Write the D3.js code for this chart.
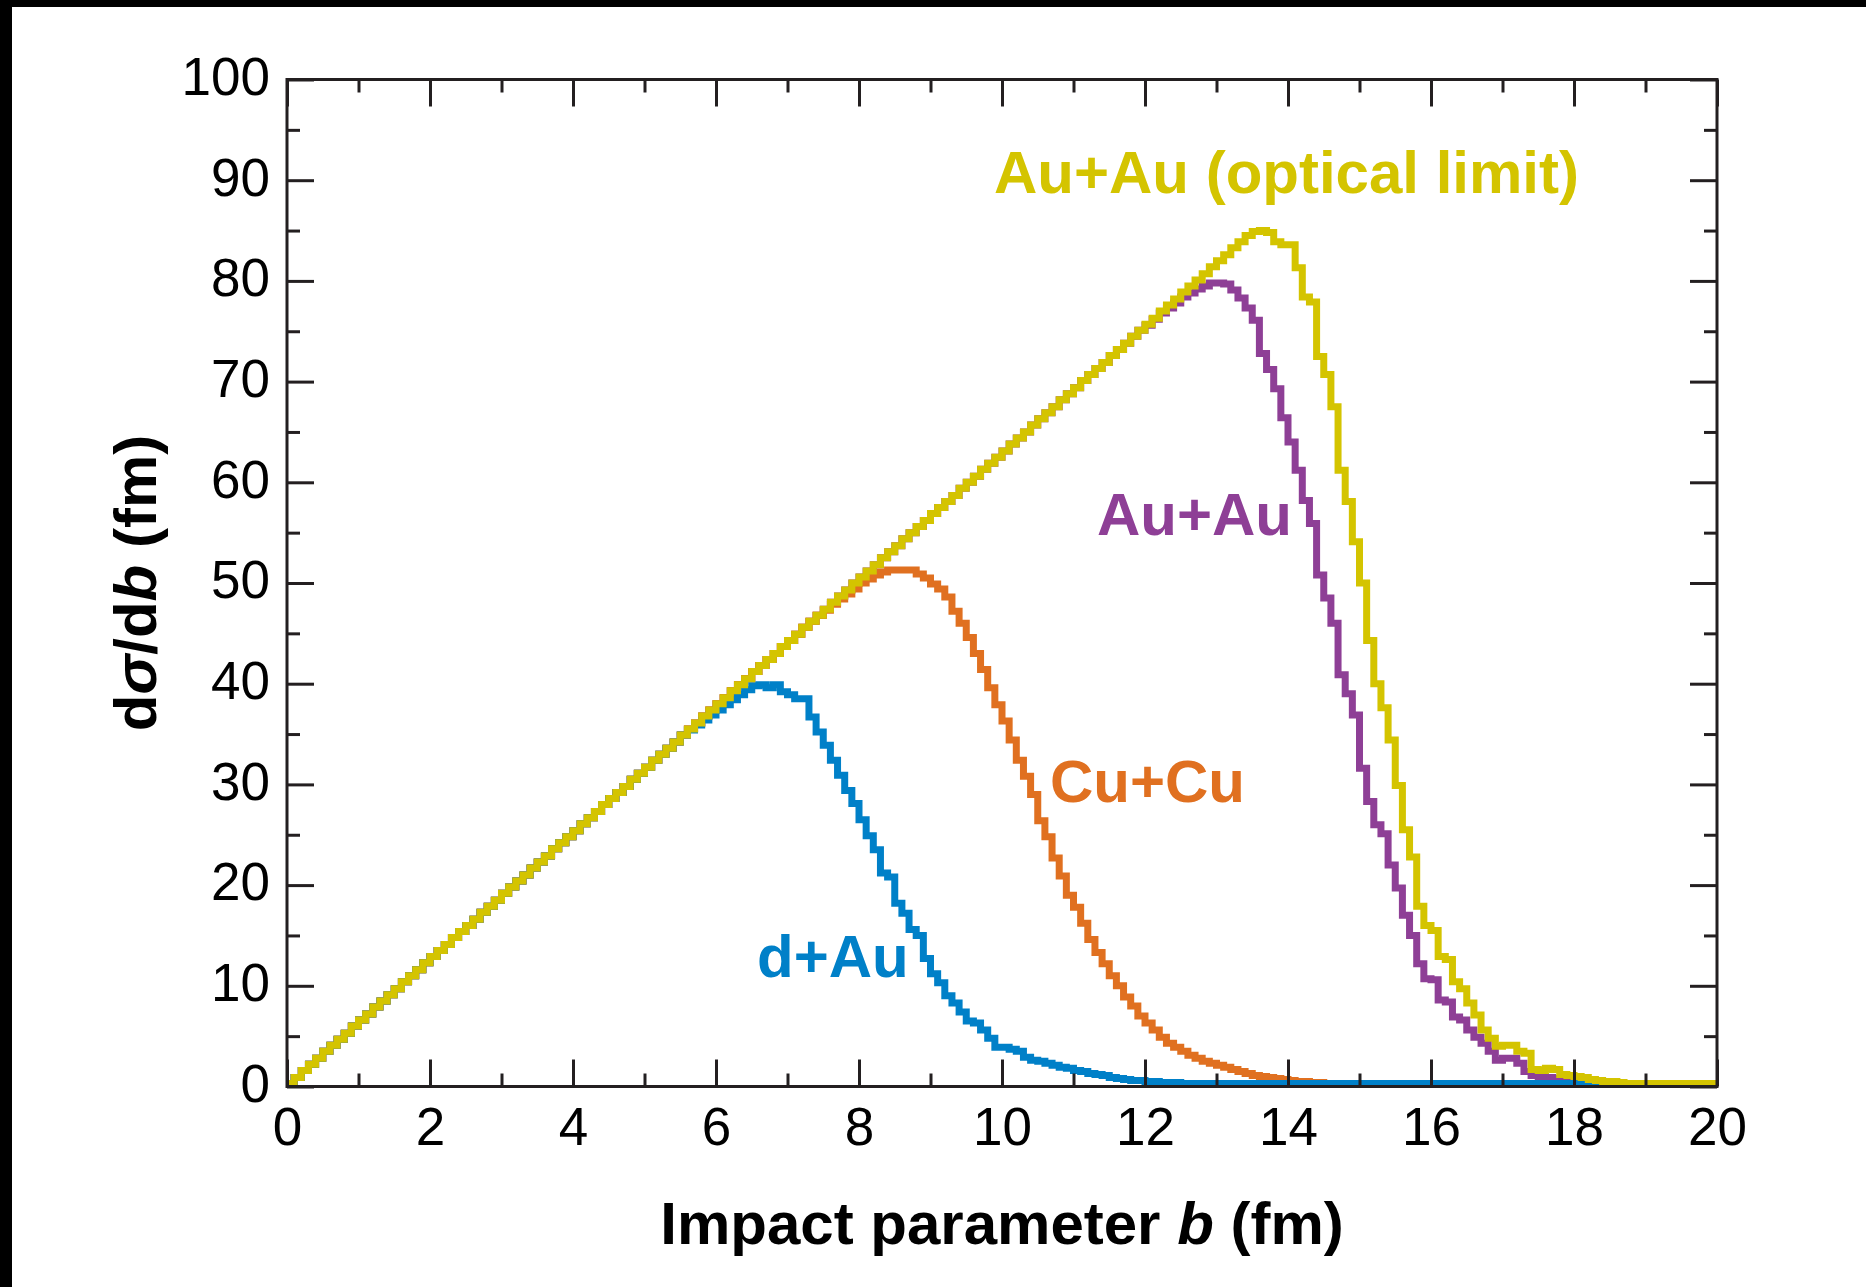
<!DOCTYPE html>
<html lang="en">
<head>
  <meta charset="UTF-8">
  <title>dσ/db vs impact parameter</title>
  <script src="https://d3js.org/d3.v7.min.js"></script>
  <style>
    html, body { margin: 0; padding: 0; background: #fff; }
    svg { display: block; }
    .axis path { display: none; }
    .axis line { stroke: #231f20; stroke-width: 3px; }
    .axis text {
      font-family: "Liberation Sans", Arial, sans-serif;
      font-size: 53px;
      fill: #000;
    }
    .title, .series-label {
      font-family: "Liberation Sans", Arial, sans-serif;
      font-weight: bold;
      font-size: 60px;
    }
    .hist { fill: none; stroke-width: 7px; stroke-linejoin: miter; }
  </style>
</head>
<body>
  <svg id="chart" width="1866" height="1287"></svg>

  <script>
    // ticks
    const xMajor = [0, 2, 4, 6, 8, 10, 12, 14, 16, 18, 20];
    const xMinor = [1, 3, 5, 7, 9, 11, 13, 15, 17, 19];
    const yMajor = [0, 10, 20, 30, 40, 50, 60, 70, 80, 90, 100];
    const yMinor = [5, 15, 25, 35, 45, 55, 65, 75, 85, 95];

    // histogram bins of 0.1 fm starting at b = 0
    const binWidth = 0.1;

    // common straight edge that all four systems share at small b (bins 0.0 .. 13.4 fm)
    const rise = [
      0.3, 0.9, 1.6, 2.2, 2.8, 3.5, 4.1, 4.7, 5.3, 6.0,
      6.6, 7.2, 7.9, 8.5, 9.1, 9.7, 10.4, 11.0, 11.6, 12.3,
      12.9, 13.5, 14.1, 14.8, 15.4, 16.0, 16.6, 17.3, 17.9, 18.5,
      19.2, 19.8, 20.4, 21.0, 21.7, 22.3, 22.9, 23.6, 24.2, 24.8,
      25.4, 26.1, 26.7, 27.3, 28.0, 28.6, 29.2, 29.8, 30.5, 31.1,
      31.7, 32.4, 33.0, 33.6, 34.2, 34.9, 35.5, 36.1, 36.8, 37.4,
      38.0, 38.6, 39.3, 39.9, 40.5, 41.2, 41.8, 42.4, 43.0, 43.7,
      44.3, 44.9, 45.6, 46.2, 46.8, 47.4, 48.1, 48.7, 49.3, 50.0,
      50.6, 51.2, 51.8, 52.5, 53.1, 53.7, 54.4, 55.0, 55.6, 56.2,
      56.9, 57.5, 58.1, 58.7, 59.4, 60.0, 60.6, 61.3, 61.9, 62.5,
      63.1, 63.8, 64.4, 65.0, 65.7, 66.3, 66.9, 67.5, 68.2, 68.8,
      69.4, 70.1, 70.7, 71.3, 71.9, 72.6, 73.2, 73.8, 74.5, 75.1,
      75.7, 76.3, 77.0, 77.6, 78.2, 78.9, 79.5, 80.1, 80.7, 81.4,
      82.0, 82.6, 83.3, 83.9, 84.5
    ];

    // d+Au, from bin 5.6 fm
    const dAuTail = [
      35.4, 35.9, 36.4, 36.9, 37.4, 37.9, 38.4, 38.9, 39.4, 39.8,
      39.9, 39.6, 39.9, 39.2, 38.9, 38.5, 38.5, 36.7, 35.2, 33.9,
      32.4, 30.9, 29.4, 28.1, 26.5, 24.9, 23.5, 21.2, 20.8, 18.2,
      17.2, 15.6, 15.0, 12.7, 11.2, 10.3, 9.0, 8.3, 7.4, 6.5,
      6.3, 5.6, 4.8, 3.9, 3.9, 3.7, 3.5, 2.9, 2.6, 2.5,
      2.3, 2.1, 1.9, 1.8, 1.6, 1.5, 1.3, 1.2, 1.1, 0.9,
      0.8, 0.7, 0.6, 0.6, 0.5, 0.5, 0.4, 0.4, 0.4, 0.3
    ];

    // Cu+Cu, from bin 7.5 fm
    const cuCuTail = [
      47.3, 47.9, 48.4, 48.9, 49.4, 50.0, 50.4, 50.8, 51.1, 51.3,
      51.3, 51.3, 51.3, 50.9, 50.5, 49.9, 49.4, 48.6, 47.2, 46.0,
      44.6, 43.0, 41.4, 39.6, 37.9, 36.3, 34.4, 32.4, 30.8, 29.0,
      26.4, 24.8, 22.7, 20.9, 19.0, 17.8, 16.2, 14.6, 13.3, 12.2,
      11.0, 10.0, 8.9, 8.0, 7.0, 6.3, 5.6, 4.9, 4.3, 3.9,
      3.5, 3.1, 2.8, 2.5, 2.3, 2.1, 1.9, 1.7, 1.5, 1.3,
      1.1, 1.0, 0.9, 0.8, 0.7, 0.6, 0.5, 0.5, 0.4, 0.4,
      0.3
    ];

    // Au+Au, from bin 12.0 fm
    const auAuTail = [
      75.6, 76.2, 76.8, 77.3, 77.8, 78.4, 78.8, 79.2, 79.5, 79.8,
      79.8, 79.7, 79.1, 78.3, 77.3, 76.1, 72.8, 71.2, 69.3, 66.4,
      64.0, 61.2, 58.2, 55.9, 50.8, 48.5, 46.0, 40.9, 39.0, 36.9,
      31.6, 28.3, 26.0, 25.1, 22.0, 19.7, 17.0, 15.0, 12.2, 10.7,
      10.6, 8.6, 8.4, 6.9, 6.6, 5.6, 4.9, 4.3, 3.5, 2.6,
      2.8, 2.8, 2.3, 1.5, 1.1, 1.0, 0.9, 0.8, 0.7, 0.6,
      0.5, 0.5, 0.4, 0.3
    ];

    // Au+Au optical limit, from bin 13.5 fm
    const auAuOpticalTail = [
      84.9, 85.0, 84.8, 83.9, 83.6, 83.6, 81.3, 78.4, 77.9, 72.5,
      70.7, 67.5, 61.2, 58.1, 54.1, 50.0, 44.3, 40.0, 37.6, 34.4,
      29.9, 25.5, 22.8, 17.9, 16.0, 15.5, 12.9, 12.6, 10.4, 9.7,
      8.3, 7.1, 5.6, 4.8, 4.0, 4.1, 4.1, 3.5, 3.3, 1.7,
      1.6, 1.8, 1.7, 1.2, 1.1, 1.0, 0.9, 0.7, 0.6, 0.5,
      0.5, 0.4, 0.3
    ];

    // drawn back to front
    const series = [
      { name: "Au+Au", color: "#8e3f96", values: rise.slice(0, 120).concat(auAuTail) },
      { name: "Cu+Cu", color: "#e07020", values: rise.slice(0, 75).concat(cuCuTail) },
      { name: "d+Au", color: "#0080c8", values: rise.slice(0, 56).concat(dAuTail) },
      { name: "Au+Au (optical limit)", color: "#d4c400", values: rise.slice(0, 135).concat(auAuOpticalTail) }
    ];

    const labels = [
      { text: "Au+Au (optical limit)", color: "#d4c400", x: 994, y: 193 },
      { text: "Au+Au", color: "#8e3f96", x: 1097, y: 535 },
      { text: "Cu+Cu", color: "#e07020", x: 1050, y: 802 },
      { text: "d+Au", color: "#0080c8", x: 757, y: 977 }
    ];

    const svg = d3.select("#chart");
    const width = +svg.attr("width");
    const height = +svg.attr("height");
    const margin = { top: 79.5, right: 149, bottom: 200.5, left: 287 };

    svg.append("rect").attr("width", width).attr("height", height).attr("fill", "#fff");
    // dark bands along the top and left edge of the original image
    svg.append("rect").attr("width", width).attr("height", 7).attr("fill", "#000");
    svg.append("rect").attr("width", 12).attr("height", height).attr("fill", "#000");

    const x = d3.scaleLinear().domain([0, 20]).range([margin.left, width - margin.right]);
    const y = d3.scaleLinear().domain([0, 100]).range([height - margin.bottom, margin.top]);

    svg.append("clipPath").attr("id", "plot-clip")
      .append("rect")
      .attr("x", x(0)).attr("y", y(100))
      .attr("width", x(20) - x(0)).attr("height", y(0) - y(100));

    const line = d3.line()
      .x(d => x(d[0]))
      .y(d => y(d[1]))
      .curve(d3.curveStepAfter);

    const plot = svg.append("g").attr("clip-path", "url(#plot-clip)");

    series.forEach(s => {
      const pts = s.values.map((v, i) => [i * binWidth, v]);
      pts.push([x.domain()[1], s.values[s.values.length - 1]]);
      plot.append("path")
        .datum(pts)
        .attr("class", "hist")
        .attr("stroke", s.color)
        .attr("d", line);
    });

    // axes: inward ticks on all four sides
    const major = 27, minor = 13;

    svg.append("g").attr("class", "axis")
      .attr("transform", `translate(0,${y(0)})`)
      .call(d3.axisBottom(x).tickValues(xMajor).tickSize(-major).tickSizeOuter(0).tickPadding(21).tickFormat(d3.format("d")));
    svg.append("g").attr("class", "axis")
      .attr("transform", `translate(0,${y(0)})`)
      .call(d3.axisBottom(x).tickValues(xMinor).tickSize(-minor).tickSizeOuter(0).tickFormat(""));
    svg.append("g").attr("class", "axis")
      .attr("transform", `translate(0,${y(100)})`)
      .call(d3.axisTop(x).tickValues(xMajor).tickSize(-major).tickSizeOuter(0).tickFormat(""));
    svg.append("g").attr("class", "axis")
      .attr("transform", `translate(0,${y(100)})`)
      .call(d3.axisTop(x).tickValues(xMinor).tickSize(-minor).tickSizeOuter(0).tickFormat(""));

    svg.append("g").attr("class", "axis y-left")
      .attr("transform", `translate(${x(0)},0)`)
      .call(d3.axisLeft(y).tickValues(yMajor).tickSize(-major).tickSizeOuter(0).tickPadding(17).tickFormat(d3.format("d")));
    svg.select(".y-left").selectAll("text").attr("dy", "0.28em");
    svg.append("g").attr("class", "axis")
      .attr("transform", `translate(${x(0)},0)`)
      .call(d3.axisLeft(y).tickValues(yMinor).tickSize(-minor).tickSizeOuter(0).tickFormat(""));
    svg.append("g").attr("class", "axis")
      .attr("transform", `translate(${x(20)},0)`)
      .call(d3.axisRight(y).tickValues(yMajor).tickSize(-major).tickSizeOuter(0).tickFormat(""));
    svg.append("g").attr("class", "axis")
      .attr("transform", `translate(${x(20)},0)`)
      .call(d3.axisRight(y).tickValues(yMinor).tickSize(-minor).tickSizeOuter(0).tickFormat(""));

    // frame
    svg.append("rect")
      .attr("x", x(0)).attr("y", y(100))
      .attr("width", x(20) - x(0)).attr("height", y(0) - y(100))
      .attr("fill", "none")
      .attr("stroke", "#231f20")
      .attr("stroke-width", 3);

    // axis titles
    const xTitle = svg.append("text")
      .attr("class", "title")
      .attr("x", (x(0) + x(20)) / 2)
      .attr("y", 1244)
      .attr("text-anchor", "middle");
    xTitle.append("tspan").text("Impact parameter ");
    xTitle.append("tspan").attr("font-style", "italic").text("b");
    xTitle.append("tspan").text(" (fm)");

    const yTitle = svg.append("text")
      .attr("class", "title")
      .attr("text-anchor", "middle")
      .attr("transform", `translate(156,${(y(0) + y(100)) / 2}) rotate(-90)`);
    yTitle.append("tspan").text("d");
    yTitle.append("tspan").attr("font-style", "italic").text("σ");
    yTitle.append("tspan").text("/d");
    yTitle.append("tspan").attr("font-style", "italic").text("b");
    yTitle.append("tspan").text(" (fm)");

    // series labels
    svg.selectAll(".series-label")
      .data(labels)
      .join("text")
      .attr("class", "series-label")
      .attr("x", d => d.x)
      .attr("y", d => d.y)
      .attr("fill", d => d.color)
      .text(d => d.text);
  </script>
</body>
</html>
